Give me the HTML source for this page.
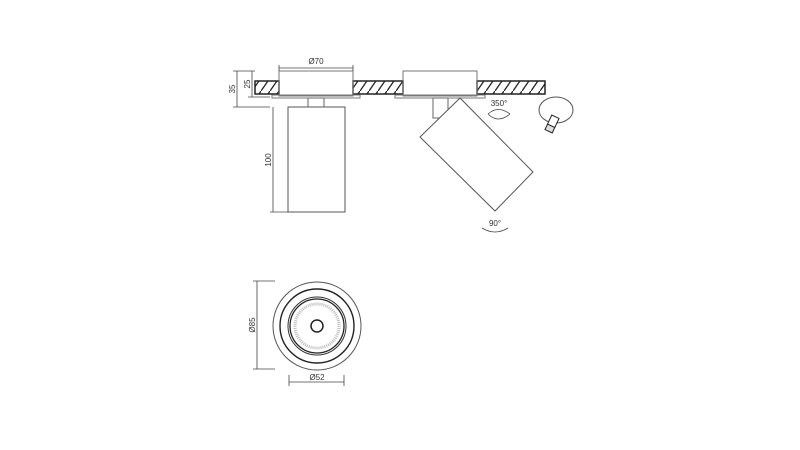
<!DOCTYPE html><html><head><style>body{margin:0;background:#fff}svg{display:block}text{font-family:"Liberation Sans",sans-serif;font-size:8px;fill:#333}</style></head><body>
<svg width="800" height="450" viewBox="0 0 800 450" xmlns="http://www.w3.org/2000/svg">
<defs><pattern id="h" width="9" height="13" patternUnits="userSpaceOnUse"><rect width="9" height="13" fill="#fff"/><path d="M0 13L9 0" stroke="#222" stroke-width="1.3"/></pattern></defs>
<g stroke="#222" fill="none" stroke-width="1">
<rect x="255" y="81" width="24" height="13" fill="url(#h)" stroke-width="1.5"/>
<rect x="353" y="81" width="50" height="13" fill="url(#h)" stroke-width="1.5"/>
<rect x="477" y="81" width="68" height="13" fill="url(#h)" stroke-width="1.5"/>
<rect x="279" y="71" width="74" height="25" stroke="#777"/>
<rect x="403" y="71" width="74" height="25" stroke="#777"/>
<rect x="272" y="95" width="88" height="3" stroke="#777"/>
<rect x="395" y="95" width="90" height="3" stroke="#777"/>
<rect x="308" y="98" width="16" height="9" stroke="#666"/>
<rect x="288" y="107" width="57" height="105" stroke="#555"/>
<rect x="433" y="98" width="15" height="20" stroke="#666"/>
<polygon points="420,137 460,98 533,172 495,211" fill="#fff" stroke="#555"/>
<g stroke="#444" stroke-width="0.8">
<line x1="279" y1="68" x2="353" y2="68"/><line x1="279" y1="65" x2="279" y2="71"/><line x1="353" y1="65" x2="353" y2="71"/>
<line x1="237" y1="71" x2="237" y2="107"/><line x1="233" y1="71" x2="255" y2="71"/><line x1="233" y1="107" x2="270" y2="107"/>
<line x1="252" y1="71" x2="252" y2="97"/><line x1="248" y1="97" x2="270" y2="97"/>
<line x1="273" y1="107" x2="273" y2="212"/><line x1="270" y1="212" x2="288" y2="212"/>
<line x1="257" y1="281" x2="257" y2="369"/><line x1="253" y1="281" x2="275" y2="281"/><line x1="253" y1="369" x2="275" y2="369"/>
<line x1="289" y1="382" x2="344" y2="382"/><line x1="289" y1="375" x2="289" y2="386"/><line x1="344" y1="375" x2="344" y2="386"/>
<path d="M488 114 Q498 124 510 114"/><path d="M488 114 Q498 105 510 114"/>
<path d="M482 228 Q495 236 508 228"/>
</g>
<ellipse cx="556" cy="110" rx="17" ry="13" stroke="#555"/>
<g transform="translate(552,124) rotate(25)"><rect x="-4" y="-8" width="8" height="10" fill="#fff"/><rect x="-4" y="2" width="8" height="6" fill="#ddd"/></g>
<circle cx="317" cy="326" r="44" stroke="#555"/>
<circle cx="317" cy="326" r="37" stroke-width="1.4"/>
<circle cx="317" cy="326" r="29" stroke="#333"/>
<circle cx="317" cy="326" r="27" stroke-width="1.3"/>
<circle cx="317" cy="326" r="22" stroke="#bbb" stroke-dasharray="1 1" stroke-width="3"/>
<circle cx="317" cy="326" r="6" stroke-width="1.5"/>
</g>
<text x="316" y="64" text-anchor="middle">Ø70</text>
<text transform="translate(235,89) rotate(-90)" text-anchor="middle">35</text>
<text transform="translate(250,84) rotate(-90)" text-anchor="middle">25</text>
<text transform="translate(271,160) rotate(-90)" text-anchor="middle">100</text>
<text transform="translate(255,325) rotate(-90)" text-anchor="middle">Ø85</text>
<text x="317" y="380" text-anchor="middle">Ø52</text>
<text x="499" y="106" text-anchor="middle">350°</text>
<text x="495" y="226" text-anchor="middle">90°</text>
</svg></body></html>
